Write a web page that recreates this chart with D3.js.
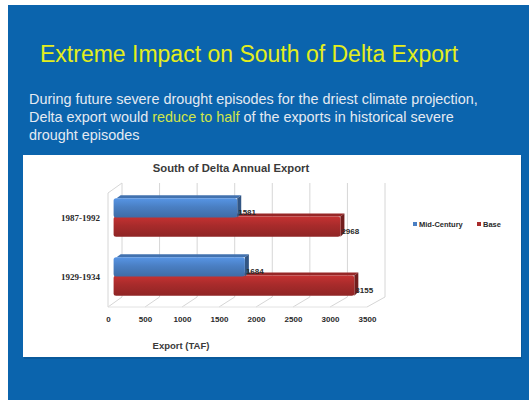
<!DOCTYPE html>
<html><head><meta charset="utf-8">
<script src="https://cdn.jsdelivr.net/npm/d3@7"></script>
<style>html,body{margin:0;padding:0;background:#fff;}svg{display:block;}</style>
</head><body>
<script>
const categories = ["1987-1992", "1929-1934"];
const seriesNames = ["Mid-Century", "Base"];
const midCentury = [1581, 1684];
const base = [2968, 3155];
const xTicks = [0, 500, 1000, 1500, 2000, 2500, 3000, 3500];
const seriesColors = ["#4a7fc3", "#a82b2b"];

const W = 529, H = 400;
const svg = d3.select("body").append("svg").attr("width", W).attr("height", H);
const defs = svg.append("defs");

// slide background
svg.append("rect").attr("x", 8).attr("y", 5).attr("width", W - 8).attr("height", H - 5).attr("fill", "#0b64ad");

// slide title
svg.append("text").attr("x", 40).attr("y", 62).attr("fill", "#e4ee1c")
  .style("font-family", "Liberation Sans, Arial, sans-serif").style("font-size", "23px")
  .text("Extreme Impact on South of Delta Export");

// subtitle
const sub = svg.append("g").style("font-family", "Liberation Sans, Arial, sans-serif").style("font-size", "14.4px").attr("fill", "#e4eaf2");
sub.append("text").attr("x", 29).attr("y", 104).text("During future severe drought episodes for the driest climate projection,");
const l2 = sub.append("text").attr("x", 29).attr("y", 122);
l2.append("tspan").text("Delta export would ");
l2.append("tspan").attr("fill", "#d2e64a").text("reduce to half");
l2.append("tspan").text(" of the exports in historical severe");
sub.append("text").attr("x", 29).attr("y", 140).text("drought episodes");

// chart panel
svg.append("rect").attr("x", 24).attr("y", 157).attr("width", 498).attr("height", 202).attr("fill", "#08528f").attr("opacity", 0.6);
svg.append("rect").attr("x", 23).attr("y", 155).attr("width", 498).attr("height", 202).attr("fill", "#ffffff");

// chart title
svg.append("text").attr("x", 231).attr("y", 172).attr("text-anchor", "middle")
  .style("font-family", "Liberation Sans, Arial, sans-serif").style("font-size", "11.3px").style("font-weight", "bold").attr("fill", "#3a3a3a")
  .text("South of Delta Annual Export");

// scales
const xFront = d3.scaleLinear().domain([0, 3500]).range([108, 367]);
const xBack = d3.scaleLinear().domain([0, 3500]).range([122, 385]);
const xBar = d3.scaleLinear().domain([0, 3500]).range([119.6, 380]);
const y = d3.scaleBand().domain(categories).range([188, 306]).paddingInner(0.35).paddingOuter(0.175);
const ySub = d3.scaleBand().domain(seriesNames).range([0, y.bandwidth()]);

const wallTop = 183, floorBack = 297, floorFront = 307;
const grid = svg.append("g").attr("stroke", "#d6d6d6").attr("stroke-width", 1).attr("fill", "none");
grid.append("path").attr("d", `M${xFront(0)},${floorFront} L${xFront(0)},${wallTop + 10} L${xBack(0)},${wallTop}`);
xTicks.forEach(t => {
  grid.append("line").attr("x1", xBack(t)).attr("x2", xBack(t)).attr("y1", wallTop).attr("y2", floorBack);
  grid.append("line").attr("x1", xBack(t)).attr("x2", xFront(t)).attr("y1", floorBack).attr("y2", floorFront);
});
grid.append("line").attr("x1", xFront(0)).attr("x2", xFront(3500)).attr("y1", floorFront).attr("y2", floorFront).attr("stroke", "#e2e2e2");

// gradients
function grad(id, c) {
  const g = defs.append("linearGradient").attr("id", id).attr("x1", 0).attr("x2", 0).attr("y1", 0).attr("y2", 1);
  g.append("stop").attr("offset", "0%").attr("stop-color", d3.color(c).brighter(0.45));
  g.append("stop").attr("offset", "45%").attr("stop-color", c);
  g.append("stop").attr("offset", "100%").attr("stop-color", d3.color(c).darker(0.45));
}
grad("gBlue", seriesColors[0]);
grad("gRed", seriesColors[1]);
const gradIds = ["gBlue", "gRed"];

// bars (Base first so that Mid-Century overlaps its top)
const rows = [];
categories.forEach((c, i) => {
  rows.push({ cat: c, s: 1, v: base[i] });
  rows.push({ cat: c, s: 0, v: midCentury[i] });
});
const bars = svg.append("g");
rows.forEach(d => {
  const y0 = y(d.cat) + ySub(seriesNames[d.s]) - (d.s === 1 ? 1 : 0);
  const h = ySub.bandwidth() + (d.s === 1 ? 1 : 0);
  const x0 = xBar(0) - 6, x1 = xBar(d.v);
  const col = seriesColors[d.s];
  bars.append("path").attr("d", `M${x0 + 3},${y0} L${x1},${y0} L${x1 + 4},${y0 - 3} L${x0 + 7},${y0 - 3} Z`)
    .attr("fill", d3.color(col).darker(0.3));
  bars.append("path").attr("d", `M${x1},${y0} L${x1 + 4},${y0 - 3} L${x1 + 4},${y0 + h - 4} L${x1},${y0 + h} Z`)
    .attr("fill", d3.color(col).darker(1.1));
  bars.append("rect").attr("x", x0).attr("y", y0).attr("width", x1 - x0).attr("height", h)
    .attr("rx", 2.5).attr("fill", `url(#${gradIds[d.s]})`);
});

// data labels
const lab = svg.append("g").style("font-family", "Liberation Sans, Arial, sans-serif").style("font-size", "8px").style("font-weight", "bold").attr("fill", "#2a2a2a");
categories.forEach((c, i) => {
  [[0, midCentury[i]], [1, base[i]]].forEach(([s, v]) => {
    lab.append("text").attr("x", xBar(v) + 1).attr("y", y(c) + ySub(seriesNames[s]) + ySub.bandwidth() * 0.85).text(v);
  });
});

// category labels
const catG = svg.append("g").style("font-family", "Liberation Serif, Times New Roman, serif").style("font-size", "9px").style("font-weight", "bold").attr("fill", "#2a2a2a");
categories.forEach(c => {
  catG.append("text").attr("x", 100).attr("y", y(c) + y.bandwidth() / 2 + 3).attr("text-anchor", "end").text(c);
});

// x axis
const axis = d3.axisBottom(xFront).tickValues(xTicks).tickFormat(d3.format("d")).tickSize(0).tickPadding(0);
const ax = svg.append("g").attr("transform", `translate(0,${floorFront + 9})`).call(axis);
ax.select(".domain").remove();
ax.selectAll("text").style("font-family", "Liberation Sans, Arial, sans-serif").style("font-size", "8px").style("font-weight", "bold").attr("fill", "#2a2a2a");

// axis title
svg.append("text").attr("x", 181).attr("y", 349).attr("text-anchor", "middle")
  .style("font-family", "Liberation Sans, Arial, sans-serif").style("font-size", "9.5px").style("font-weight", "bold").attr("fill", "#3a3a3a")
  .text("Export (TAF)");

// legend
const leg = svg.append("g").style("font-family", "Liberation Sans, Arial, sans-serif").style("font-size", "7.5px").style("font-weight", "bold").attr("fill", "#2a2a2a");
const legX = [413, 477];
seriesNames.forEach((n, i) => {
  leg.append("rect").attr("x", legX[i]).attr("y", 222).attr("width", 4).attr("height", 4).attr("fill", seriesColors[i]);
  leg.append("text").attr("x", legX[i] + 6).attr("y", 226.5).text(n);
});
</script>
</body></html>
